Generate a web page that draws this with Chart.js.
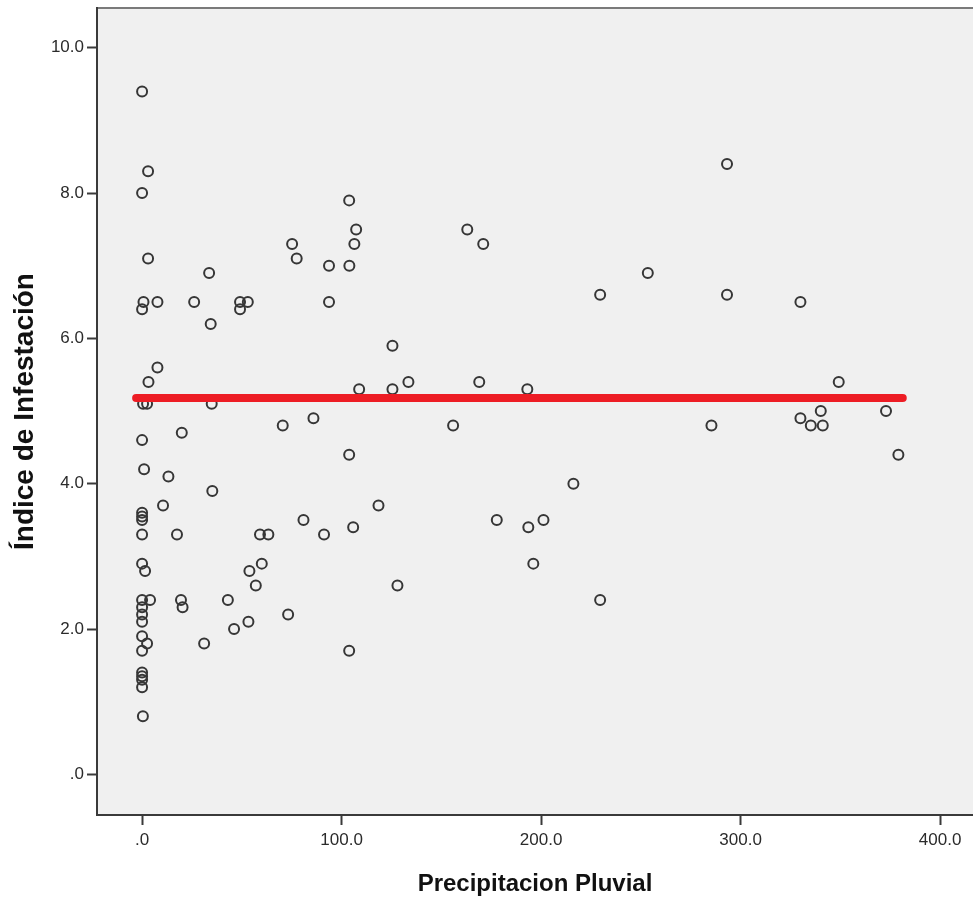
<!DOCTYPE html>
<html><head><meta charset="utf-8">
<script src="https://cdn.jsdelivr.net/npm/chart.js@4"></script>
<style>html,body{margin:0;padding:0;background:#fff}canvas{display:block}</style>
</head><body>
<canvas id="c" width="973" height="901"></canvas>
<script>
// Precipitación pluvial (x) e índice de infestación (y)
const precipitacion = [
  0, 0, 0, 0.5, 0, 0, 0, 0, 0, 0, 0, 0, 0, 0, 0, 0, 0, 0, 0, 0, 0.4,
  3, 3, 0.7, 7.7, 7.7, 3.2, 2.5, 1, 1.5, 4, 2.5,
  10.5, 13.2, 17.5, 19.5, 20.3, 19.9, 26.1, 31.1, 33.6, 34.4, 34.9, 35.2,
  43, 46.1, 49.1, 49.1, 53, 53.3, 53.8, 57, 59.1, 60, 63.3, 70.5, 73.2,
  75.2, 77.5, 80.9, 85.9, 91.2, 93.7, 93.7, 103.8, 103.9, 103.8, 103.8,
  105.8, 106.4, 107.3, 108.8, 118.5, 125.5, 125.5, 128, 133.5, 155.9,
  163, 169, 171, 177.8, 193.1, 193.6, 196.1, 201.2, 216.2, 229.6, 229.6,
  253.5, 285.4, 293.2, 293.2, 330, 330, 335.2, 340.2, 341.2, 349.2, 372.9, 379.1
];
const indice = [
  9.4, 8.0, 6.4, 5.1, 4.6, 3.6, 3.55, 3.5, 3.3, 2.9, 2.4, 2.3, 2.2, 2.1, 1.9, 1.7, 1.4, 1.35, 1.3, 1.2, 0.8,
  8.3, 7.1, 6.5, 6.5, 5.6, 5.4, 5.1, 4.2, 2.8, 2.4, 1.8,
  3.7, 4.1, 3.3, 2.4, 2.3, 4.7, 6.5, 1.8, 6.9, 6.2, 5.1, 3.9,
  2.4, 2.0, 6.5, 6.4, 6.5, 2.1, 2.8, 2.6, 3.3, 2.9, 3.3, 4.8, 2.2,
  7.3, 7.1, 3.5, 4.9, 3.3, 7.0, 6.5, 7.9, 7.0, 4.4, 1.7,
  3.4, 7.3, 7.5, 5.3, 3.7, 5.9, 5.3, 2.6, 5.4, 4.8,
  7.5, 5.4, 7.3, 3.5, 5.3, 3.4, 2.9, 3.5, 4.0, 6.6, 2.4,
  6.9, 4.8, 8.4, 6.6, 6.5, 4.9, 4.8, 5.0, 4.8, 5.4, 5.0, 4.4
];
// Línea de ajuste (media total)
const lineaX = [-3, 381.3];
const lineaY = [5.18, 5.18];
const xTicks = [0, 100, 200, 300, 400];
const yTicks = [0, 2, 4, 6, 8, 10];
const xTitle = 'Precipitacion Pluvial';
const yTitle = 'Índice de Infestación';

const puntos = precipitacion.map((x, i) => ({x: x, y: indice[i]}));
const linea = lineaX.map((x, i) => ({x: x, y: lineaY[i]}));
const fmt = v => v === 0 ? '.0' : Number(v).toFixed(1);

const fondo = {
  id: 'fondo',
  beforeDraw(chart) {
    const {ctx, chartArea: a, width, height} = chart;
    ctx.save();
    ctx.fillStyle = '#ffffff';
    ctx.fillRect(0, 0, width, height);
    ctx.fillStyle = '#f0f0f0';
    ctx.fillRect(a.left, a.top, a.right - a.left, a.bottom - a.top);
    ctx.strokeStyle = '#7a7a7a';
    ctx.lineWidth = 2;
    ctx.beginPath();
    ctx.moveTo(a.left, a.top);
    ctx.lineTo(a.right, a.top);
    ctx.stroke();
    ctx.restore();
  }
};

const noPad = s => { s.paddingTop = 0; s.paddingBottom = 0; s.paddingLeft = 0; s.paddingRight = 0; };

const tickFont = {family: '"Liberation Sans", Arial, sans-serif', size: 17};
const titleFontX = {family: '"Liberation Sans", Arial, sans-serif', size: 24, weight: 'bold'};
const titleFontY = {family: '"Liberation Sans", Arial, sans-serif', size: 28, weight: 'bold'};

new Chart(document.getElementById('c'), {
  type: 'scatter',
  data: {
    datasets: [
      {
        type: 'line',
        data: linea,
        borderColor: '#ed1c24',
        borderWidth: 8,
        borderCapStyle: 'round',
        pointRadius: 0,
        fill: false,
        order: 0
      },
      {
        data: puntos,
        pointStyle: 'circle',
        pointRadius: 5,
        pointBorderWidth: 2,
        pointBorderColor: '#363636',
        pointBackgroundColor: 'rgba(0,0,0,0)',
        borderColor: '#363636',
        backgroundColor: 'rgba(0,0,0,0)',
        order: 1
      }
    ]
  },
  options: {
    responsive: false,
    animation: false,
    layout: {autoPadding: false, padding: {top: 8, right: 0, bottom: 0, left: 0}},
    plugins: {legend: {display: false}, tooltip: {enabled: false}},
    scales: {
      x: {
        type: 'linear',
        min: -22.6,
        max: 416.5,
        afterFit(s) { s.height = 86; noPad(s); },
        afterBuildTicks(s) { s.ticks = xTicks.map(v => ({value: v})); },
        ticks: {callback: fmt, font: tickFont, color: '#2b2b2b', padding: 5, maxRotation: 0, autoSkip: false},
        grid: {drawOnChartArea: false, drawTicks: true, tickLength: 10, tickColor: '#3a3a3a', tickWidth: 2},
        border: {display: true, color: '#3a3a3a', width: 2},
        title: {display: true, text: xTitle, font: titleFontX, color: '#111', padding: {top: 0, bottom: 2}}
      },
      y: {
        type: 'linear',
        min: -0.56,
        max: 10.548,
        afterFit(s) { s.width = 97; noPad(s); },
        afterBuildTicks(s) { s.ticks = yTicks.map(v => ({value: v})); },
        ticks: {callback: fmt, font: tickFont, color: '#2b2b2b', padding: 3, autoSkip: false},
        grid: {drawOnChartArea: false, drawTicks: true, tickLength: 10, tickColor: '#3a3a3a', tickWidth: 2},
        border: {display: true, color: '#3a3a3a', width: 2},
        title: {display: true, text: yTitle, font: titleFontY, color: '#111', padding: {top: 8, bottom: 0}}
      }
    }
  },
  plugins: [fondo]
});
</script>
</body></html>
